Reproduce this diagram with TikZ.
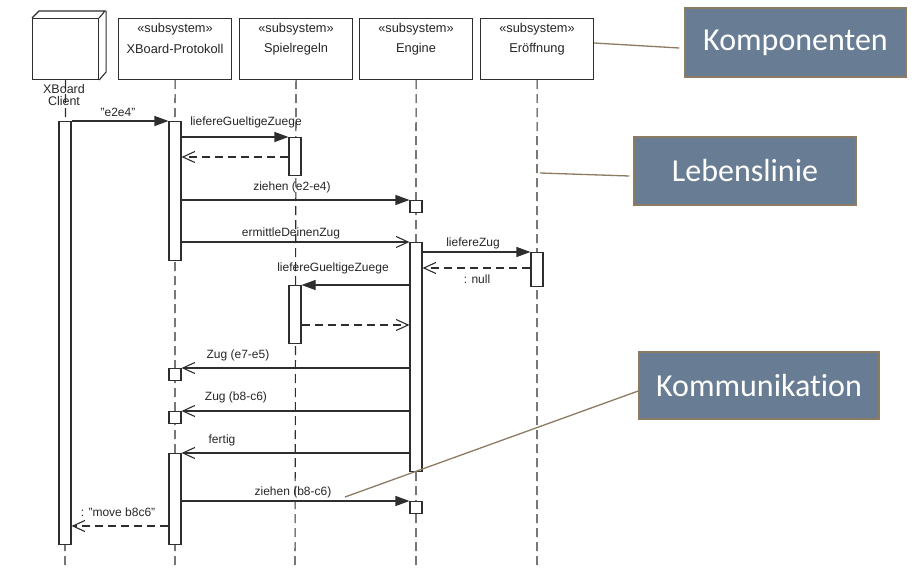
\documentclass[tikz,border=0pt]{standalone}
\usepackage{fontspec}
\setmainfont{Liberation Sans}
\newfontfamily\callfont[Ligatures=NoCommon]{Carlito}
\usetikzlibrary{arrows.meta}
\definecolor{boxfill}{HTML}{687D93}
\definecolor{boxedge}{HTML}{8C7B63}
\definecolor{ink}{HTML}{2E2E2E}
\begin{document}
\begin{tikzpicture}[x=1pt,y=-1pt,
  every node/.style={font=\fontsize{12}{12}\selectfont, text=black!85, inner sep=0pt},
  headtext/.style={font=\fontsize{12.8}{13}\selectfont},
  head/.style={draw=ink, line width=1.1pt, fill=white, minimum width=113pt, minimum height=61pt, anchor=north west},
  client/.style={draw=ink, line width=1.1pt, fill=white, minimum width=66pt, minimum height=61pt, anchor=north west},
  life/.style={draw=ink, line width=1.1pt, dash pattern=on 9pt off 5pt},
  bar/.style={draw=ink, line width=1.1pt, fill=white, minimum width=12pt, anchor=north},
  sync/.style={draw=ink, line width=1.1pt, -{Triangle[length=14pt,width=10pt]}},
  async/.style={draw=ink, line width=1.1pt, -{Straight Barb[length=12pt,width=11pt,line width=1.1pt]}},
  reply/.style={draw=ink, line width=1.1pt, dash pattern=on 8pt off 5pt, -{Straight Barb[length=12pt,width=11pt,line width=1.1pt]}},
  callout/.style={draw=boxedge, line width=1.5pt, fill=boxfill, text=white, font=\callfont\fontsize{32}{32}\selectfont},
  callline/.style={draw=boxedge, line width=1.3pt}
]
\useasboundingbox (0,0) rectangle (924,588);

% heads
\node[client] (hC) at (32,18) {};
\draw[draw=ink, line width=1.1pt] (hC.north west) -- ++(7,-7) -- ++(66,0) -- (hC.north east);
\draw[draw=ink, line width=1.1pt] ([xshift=7pt,yshift=7pt]hC.north east) -- ++(0,61) -- (hC.south east);
\node[head] (hX) at (118,18) {};
\node[head] (hS) at (239,18) {};
\node[head] (hE) at (359,18) {};
\node[head] (hO) at (480,18) {};
\foreach \h/\t in {hX/XBoard-Protokoll, hS/Spielregeln, hE/Engine, hO/Eröffnung}{
  \node[headtext] (\h st) at ([yshift=-11pt]\h.north) {«subsystem»};
  \node[headtext] (\h nm) at ([yshift=-31pt]\h.north) {\t};
}

% lifeline ends
\coordinate (eC) at (65,570);
\coordinate (eX) at (175,570);
\coordinate (eS) at (295,570);
\coordinate (eE) at (416,570);
\coordinate (eO) at (537,570);
\draw[life] (hC.south) -- (eC);
\draw[life] (hX.south) -- (eX);
\draw[life] (hS.south) -- (eS);
\draw[life] (hE.south) -- (eE);
\draw[life] (hO.south) -- (eO);

\node[align=center, font=\fontsize{12.5}{12.5}\selectfont] (cname) at (64,95) {XBoard\\Client};

% activation bars
\node[bar, minimum height=423pt] (cb) at (65,121) {};
\node[bar, minimum height=139pt] (xb1) at (175,121) {};
\node[bar, minimum height=38pt] (sb1) at (295,137) {};
\node[bar, minimum height=12pt] (eb1) at (416,200) {};
\node[bar, minimum height=229pt] (eb2) at (416,242) {};
\node[bar, minimum height=34pt] (ob) at (537,252) {};
\node[bar, minimum height=58pt] (sb2) at (295,285) {};
\node[bar, minimum height=12pt] (xb2) at (175,368) {};
\node[bar, minimum height=12pt] (xb3) at (175,411) {};
\node[bar, minimum height=91pt] (xb4) at (175,453) {};
\node[bar, minimum height=12pt] (eb3) at (416,501) {};

% messages
\draw[sync] (cb.north east) -- (xb1.north west);
\node (l1) at (118,112) {"e2e4"};
\draw[sync] (xb1.east |- sb1.north) -- (sb1.north west);
\node (l2) at (246,122) {liefereGueltigeZuege};
\draw[reply] (sb1.west |- 0,157) -- (xb1.east |- 0,157);
\draw[sync] (xb1.east |- eb1.north) -- (eb1.north west);
\node (l3) at (292,187) {ziehen (e2-e4)};
\draw[async] (xb1.east |- eb2.north) -- (eb2.north west);
\node (l4) at (291,233) {ermittleDeinenZug};
\draw[sync] (eb2.east |- ob.north) -- (ob.north west);
\node (l5) at (473,243) {liefereZug};
\draw[reply] (ob.west |- 0,268) -- (eb2.east |- 0,268);
\node (l6) at (477,279) {: null};
\draw[sync] (eb2.west |- sb2.north) -- (sb2.north east);
\node (l7) at (333,268) {liefereGueltigeZuege};
\draw[reply] (sb2.east |- 0,325) -- (eb2.west |- 0,325);
\draw[async] (eb2.west |- xb2.north) -- (xb2.north east);
\node (l8) at (238,355) {Zug (e7-e5)};
\draw[async] (eb2.west |- xb3.north) -- (xb3.north east);
\node (l9) at (236,397) {Zug (b8-c6)};
\draw[async] (eb2.west |- xb4.north) -- (xb4.north east);
\node (l10) at (222,440) {fertig};
\draw[sync] (xb4.east |- eb3.north) -- (eb3.north west);
\node (l11) at (293,492) {ziehen (b8-c6)};
\draw[reply] (xb4.west |- 0,526) -- (cb.east |- 0,526);
\node (l12) at (118,512) {: "move b8c6"};

% callouts
\node[callout, minimum width=221pt, minimum height=69pt] (kom) at (795.5,42.5) {Komponenten};
\node[callout, minimum width=222pt, minimum height=68pt] (leb) at (745,171) {Lebenslinie};
\node[callout, minimum width=240pt, minimum height=67pt] (kmu) at (759,385.5) {Kommunikation};
\coordinate (lebstart) at (540,173);
\coordinate (kmuend) at (345,497);
\draw[callline] (hO.east |- 0,43) -- ([xshift=-5pt]kom.west |- 0,48);
\draw[callline] (lebstart) -- ([xshift=-4pt]leb.west |- 0,176);
\draw[callline] (kmu.west |- 0,391) -- (kmuend);
\end{tikzpicture}
\end{document}
